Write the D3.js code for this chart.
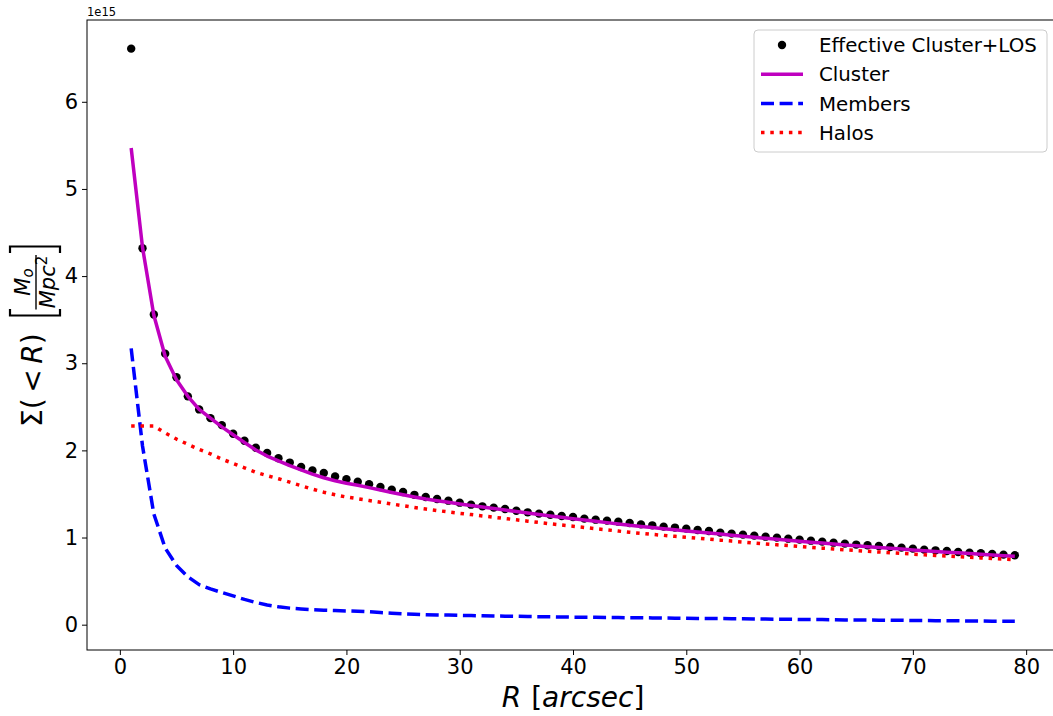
<!DOCTYPE html>
<html>
<head>
<meta charset="utf-8">
<script src="https://cdn.jsdelivr.net/npm/d3@7"></script>
<style>
  body { margin: 0; background: #fff; }
  svg { display: block; font-family: "DejaVu Sans", sans-serif; }
</style>
</head>
<body>
<svg id="chart" width="1053" height="716"></svg>
<script>
// radius in arcsec, one sample per arcsec
const radii = d3.range(1, 80);

// values in units of 1e15 M_o / Mpc^2
const effective = [
  6.61, 4.32, 3.56, 3.11, 2.84, 2.62, 2.47, 2.37, 2.29, 2.19,
  2.11, 2.03, 1.97, 1.91, 1.86, 1.81, 1.77, 1.74, 1.70, 1.67,
  1.64, 1.611, 1.579, 1.549, 1.522, 1.49, 1.465, 1.442, 1.423, 1.40,
  1.377, 1.358, 1.343, 1.327, 1.308, 1.289, 1.274, 1.262, 1.247, 1.235,
  1.217, 1.205, 1.194, 1.182, 1.166, 1.151, 1.14, 1.125, 1.114, 1.102,
  1.087, 1.075, 1.056, 1.045, 1.033, 1.022, 1.01, 0.999, 0.987, 0.976,
  0.964, 0.953, 0.941, 0.93, 0.919, 0.911, 0.903, 0.891, 0.884, 0.873,
  0.861, 0.853, 0.845, 0.834, 0.827, 0.819, 0.811, 0.804, 0.796
];

const cluster = [
  5.47, 4.33, 3.55, 3.08, 2.81, 2.62, 2.47, 2.37, 2.27, 2.18,
  2.09, 2.005, 1.935, 1.88, 1.825, 1.775, 1.727, 1.686, 1.652, 1.623,
  1.599, 1.573, 1.545, 1.517, 1.49, 1.465, 1.442, 1.422, 1.404, 1.385,
  1.368, 1.35, 1.333, 1.316, 1.299, 1.282, 1.265, 1.248, 1.232, 1.216,
  1.201, 1.186, 1.171, 1.156, 1.14, 1.127, 1.114, 1.101, 1.089, 1.076,
  1.064, 1.052, 1.04, 1.027, 1.015, 1.003, 0.991, 0.98, 0.969, 0.957,
  0.946, 0.936, 0.926, 0.915, 0.905, 0.895, 0.886, 0.877, 0.868, 0.858,
  0.849, 0.84, 0.832, 0.824, 0.816, 0.808, 0.799, 0.791, 0.784
];

const members = [
  3.17, 2.05, 1.27, 0.88, 0.68, 0.55, 0.46, 0.41, 0.37, 0.33,
  0.29, 0.255, 0.225, 0.205, 0.19, 0.18, 0.172, 0.166, 0.162, 0.158,
  0.154, 0.148, 0.14, 0.132, 0.125, 0.12, 0.115, 0.112, 0.11, 0.107,
  0.105, 0.102, 0.1, 0.098, 0.096, 0.094, 0.092, 0.09, 0.088, 0.086,
  0.085, 0.084, 0.083, 0.082, 0.08, 0.079, 0.078, 0.076, 0.075, 0.073,
  0.072, 0.071, 0.07, 0.068, 0.067, 0.066, 0.064, 0.063, 0.062, 0.06,
  0.059, 0.058, 0.057, 0.055, 0.054, 0.053, 0.052, 0.051, 0.05, 0.048,
  0.047, 0.046, 0.045, 0.044, 0.043, 0.042, 0.04, 0.039, 0.038
];

const halos = [
  2.28, 2.28, 2.28, 2.20, 2.13, 2.07, 2.01, 1.96, 1.90, 1.85,
  1.80, 1.75, 1.71, 1.675, 1.635, 1.595, 1.555, 1.52, 1.49, 1.465,
  1.445, 1.425, 1.405, 1.385, 1.365, 1.345, 1.327, 1.31, 1.294, 1.278,
  1.263, 1.248, 1.233, 1.218, 1.203, 1.188, 1.173, 1.158, 1.144, 1.13,
  1.116, 1.102, 1.088, 1.074, 1.06, 1.048, 1.036, 1.025, 1.014, 1.003,
  0.992, 0.981, 0.97, 0.959, 0.948, 0.937, 0.927, 0.917, 0.907, 0.897,
  0.887, 0.878, 0.869, 0.86, 0.851, 0.842, 0.834, 0.826, 0.818, 0.81,
  0.802, 0.794, 0.787, 0.78, 0.773, 0.766, 0.759, 0.752, 0.746
];

const xTicks = [0, 10, 20, 30, 40, 50, 60, 70, 80];
const yTicks = [0, 1, 2, 3, 4, 5, 6];

const series = [
  {name: "Cluster", values: cluster, color: "#bf00bf", dash: null},
  {name: "Members", values: members, color: "#0000ff", dash: "13,5.6"},
  {name: "Halos", values: halos, color: "#ff0000", dash: "3.5,5.8"}
];

const svg = d3.select("#chart");
let m = {left: 87, top: 20, right: 1059, bottom: 650};

// matplotlib style 5% margins around the data
let xPad = (d3.max(radii) - d3.min(radii)) * 0.05;
let yAll = effective.concat(cluster, members, halos);
let yPad = (d3.max(yAll) - d3.min(yAll)) * 0.05;

const x = d3.scaleLinear()
  .domain([d3.min(radii) - xPad, d3.max(radii) + xPad])
  .range([m.left, m.right]);
const y = d3.scaleLinear()
  .domain([d3.min(yAll) - yPad, d3.max(yAll) + yPad])
  .range([m.bottom, m.top]);

svg.append("defs").append("clipPath").attr("id", "clip")
  .append("rect")
  .attr("x", m.left).attr("y", m.top)
  .attr("width", m.right - m.left).attr("height", m.bottom - m.top);

const plot = svg.append("g").attr("clip-path", "url(#clip)");

// points first, lines on top
plot.append("g")
  .selectAll("circle")
  .data(radii)
  .join("circle")
  .attr("cx", (d) => x(d))
  .attr("cy", (d, i) => y(effective[i]))
  .attr("r", 4.2)
  .attr("fill", "black");

const line = (vals) => d3.line()
  .x((d) => x(d))
  .y((d, i) => y(vals[i]))(radii);

series.forEach((s) => {
  plot.append("path")
    .attr("d", line(s.values))
    .attr("fill", "none")
    .attr("stroke", s.color)
    .attr("stroke-width", 3.5)
    .attr("stroke-dasharray", s.dash)
    .attr("stroke-linejoin", "round");
});

// axes
const xAxis = svg.append("g")
  .attr("transform", `translate(0,${m.bottom})`)
  .call(d3.axisBottom(x).tickValues(xTicks).tickSize(5).tickPadding(4));
const yAxis = svg.append("g")
  .attr("transform", `translate(${m.left},0)`)
  .call(d3.axisLeft(y).tickValues(yTicks).tickSize(5).tickPadding(4));

[xAxis, yAxis].forEach((a) => {
  a.select(".domain").remove();
  a.selectAll("line").attr("stroke", "black").attr("stroke-width", 1);
  a.selectAll("text")
    .attr("fill", "black")
    .style("font-family", "DejaVu Sans")
    .style("font-size", "21px");
});

svg.append("rect")
  .attr("x", m.left).attr("y", m.top)
  .attr("width", m.right - m.left).attr("height", m.bottom - m.top)
  .attr("fill", "none")
  .attr("stroke", "black")
  .attr("stroke-width", 1);

// offset text
svg.append("text")
  .attr("x", m.left)
  .attr("y", 16)
  .style("font-size", "11.5px")
  .text("1e15");

// x label
let xl = svg.append("text")
  .attr("x", (x(0) + x(80)) / 2)
  .attr("y", 707)
  .attr("text-anchor", "middle")
  .style("font-size", "28px");
xl.append("tspan").style("font-style", "italic").text("R");
xl.append("tspan").attr("dx", 10).text("[");
xl.append("tspan").style("font-style", "italic").text("arcsec");
xl.append("tspan").text("]");

// y label, drawn in a rotated frame
let yl = svg.append("g").attr("transform", "translate(41.5,427) rotate(-90)");
let sig = yl.append("text").attr("x", 0).attr("y", 0).style("font-size", "28px");
sig.append("tspan").text("\u03a3(");
sig.append("tspan").text("\u2009<\u2009");
sig.append("tspan").style("font-style", "italic").text("R");
sig.append("tspan").text(")");

yl.append("path")
  .attr("d", "M118,-31.5H111.5V18.5H118M174,-31.5H180.5V18.5H174")
  .attr("fill", "none")
  .attr("stroke", "black")
  .attr("stroke-width", 2.2);

yl.append("line")
  .attr("x1", 117.5).attr("x2", 172)
  .attr("y1", -5.5).attr("y2", -5.5)
  .attr("stroke", "black")
  .attr("stroke-width", 1.4);

let num = yl.append("text")
  .attr("x", 145).attr("y", -12)
  .attr("text-anchor", "middle")
  .style("font-size", "21px")
  .style("font-style", "italic");
num.append("tspan").text("M");
num.append("tspan").attr("dy", 3.5).style("font-size", "15px").text("o");

let den = yl.append("text")
  .attr("x", 145).attr("y", 13)
  .attr("text-anchor", "middle")
  .style("font-size", "21px")
  .style("font-style", "italic");
den.append("tspan").text("Mpc");
den.append("tspan").attr("dy", -8).style("font-size", "15px").style("font-style", "normal").text("2");

// legend
const legend = svg.append("g");
legend.append("rect")
  .attr("x", 754).attr("y", 30)
  .attr("width", 293).attr("height", 122)
  .attr("rx", 4)
  .attr("fill", "white")
  .attr("fill-opacity", 0.8)
  .attr("stroke", "#cccccc")
  .attr("stroke-width", 1);

let rows = [{name: "Effective Cluster+LOS", dot: true}].concat(series);
rows.forEach((s, i) => {
  let cy = 45 + i * 29.2;
  if (s.dot) {
    legend.append("circle").attr("cx", 782).attr("cy", cy).attr("r", 4.2).attr("fill", "black");
  } else {
    legend.append("line")
      .attr("x1", 761).attr("x2", 803)
      .attr("y1", cy).attr("y2", cy)
      .attr("stroke", s.color)
      .attr("stroke-width", 3.5)
      .attr("stroke-dasharray", s.dash);
  }
  legend.append("text")
    .attr("x", 819).attr("y", cy)
    .attr("dy", "0.36em")
    .style("font-size", "19.8px")
    .text(s.name);
});
</script>
</body>
</html>
